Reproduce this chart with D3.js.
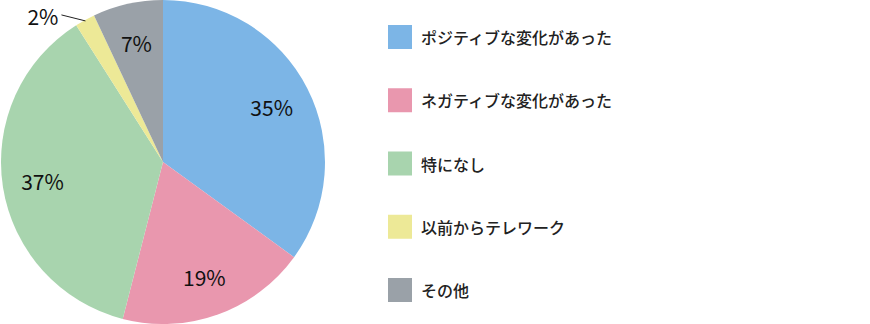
<!doctype html>
<html>
<head>
    <meta charset="utf-8">
    <title>Pie</title>
    <script src="https://cdn.jsdelivr.net/npm/d3@7"></script>
    <style>
        html, body { margin: 0; padding: 0; background: #fff; }
        #chart svg { display: block; }
        text { font-family: "Noto Sans CJK JP", "Noto Sans", sans-serif; }
    </style>
</head>
<body>
<div id="chart"></div>
<script>
    var categories = ["ポジティブな変化があった", "ネガティブな変化があった", "特になし", "以前からテレワーク", "その他"];
    var values = [35, 19, 37, 2, 7];
    var colors = ["#7cb5e6", "#e997ae", "#a8d4ae", "#ede997", "#9aa1a8"];

    var width = 870, height = 324;
    var cx = 163, cy = 162, radius = 162;

    var svg = d3.select("#chart")
        .append("svg")
        .attr("width", width)
        .attr("height", height);

    var pie = d3.pie().sort(null).value(function (d) { return d; });
    var arcs = pie(values);

    var arc = d3.arc().innerRadius(0).outerRadius(radius);
    var labelArc = d3.arc().innerRadius(122).outerRadius(122);
    var edgeArc = d3.arc().innerRadius(radius - 1).outerRadius(radius - 1);

    var g = svg.append("g").attr("transform", "translate(" + cx + "," + cy + ")");

    g.selectAll("path")
        .data(arcs)
        .enter()
        .append("path")
        .attr("d", arc)
        .attr("fill", function (d, i) { return colors[i]; });

    // labels inside for big slices, leader line for small ones
    arcs.forEach(function (d, i) {
        var pct = values[i] + "%";
        if (values[i] >= 5) {
            var c = labelArc.centroid(d);
            g.append("text")
                .attr("x", c[0])
                .attr("y", c[1])
                .attr("text-anchor", "middle")
                .attr("dominant-baseline", "central")
                .attr("font-size", 21)
                .attr("fill", "#111")
                .text(pct);
        } else {
            var p = edgeArc.centroid(d);
            var q = [p[0] - 24, p[1] - 6];
            g.append("line")
                .attr("x1", p[0]).attr("y1", p[1])
                .attr("x2", q[0]).attr("y2", q[1])
                .attr("stroke", "#222")
                .attr("stroke-width", 1);
            g.append("text")
                .attr("x", q[0] - 3)
                .attr("y", q[1] + 1)
                .attr("text-anchor", "end")
                .attr("dominant-baseline", "central")
                .attr("font-size", 21)
                .attr("fill", "#111")
                .text(pct);
        }
    });

    // legend
    var ly = d3.scalePoint()
        .domain(categories)
        .range([37, 290]);

    var legend = svg.append("g");
    var item = legend.selectAll("g")
        .data(categories)
        .enter()
        .append("g")
        .attr("transform", function (d) { return "translate(388," + ly(d) + ")"; });

    item.append("rect")
        .attr("x", 0)
        .attr("y", -12)
        .attr("width", 24)
        .attr("height", 24)
        .attr("fill", function (d, i) { return colors[i]; });

    item.append("text")
        .attr("x", 33)
        .attr("y", 0)
        .attr("dominant-baseline", "central")
        .attr("font-size", 16)
        .attr("font-weight", 500)
        .attr("fill", "#222")
        .text(function (d) { return d; });
</script>
</body>
</html>
